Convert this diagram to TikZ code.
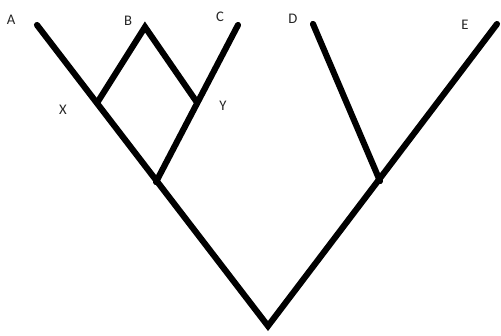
\documentclass[tikz,border=0pt]{standalone}
\usepackage{fontspec}
\setmainfont{Carlito}
\begin{document}
\begin{tikzpicture}[x=0.75pt,y=-0.75pt,
  branch/.style={line width=4.6pt,line cap=round,line join=miter,black},
  lbl/.style={font=\fontsize{11}{13}\selectfont,text=black!85,inner sep=0pt}]
\useasboundingbox (0,0) rectangle (501,336);
\coordinate (a) at (37,25);
\coordinate (b) at (145,27);
\coordinate (c) at (238,25);
\coordinate (d) at (313,24);
\coordinate (e) at (497,24);
\coordinate (x) at (97,103);
\coordinate (y) at (196,101);
\coordinate (j1) at (156,182);
\coordinate (j2) at (380,181);
\coordinate (root) at (268,326);
\draw[branch] (a) -- (root) -- (e);
\draw[branch] (x) -- (b) -- (y);
\draw[branch] (c) -- (j1);
\draw[branch] (d) -- (j2);
\node[lbl] (la) at (11,20) {A};
\node[lbl] (lb) at (128,21) {B};
\node[lbl] (lc) at (220,17) {C};
\node[lbl] (lx) at (63,110) {X};
\node[lbl] (ly) at (223,106) {Y};
\node[lbl] (ld) at (293,19) {D};
\node[lbl] (le) at (465,25) {E};
\end{tikzpicture}
\end{document}
